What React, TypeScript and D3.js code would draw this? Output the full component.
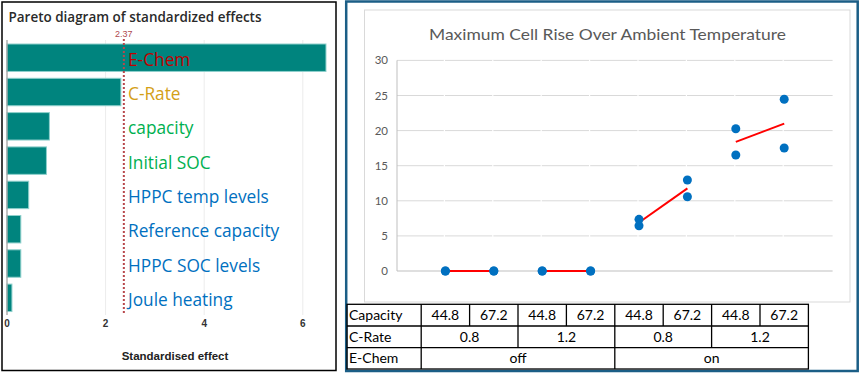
import React from "react";
import * as d3 from "d3";

// ---------- Left panel data (Pareto) ----------
const effectNames = [
  "E-Chem",
  "C-Rate",
  "capacity",
  "Initial SOC",
  "HPPC temp levels",
  "Reference capacity",
  "HPPC SOC levels",
  "Joule heating",
];
const effectValues = [6.47, 2.31, 0.86, 0.8, 0.44, 0.28, 0.28, 0.1];
const effectColors = ["#c00000", "#d4a017", "#00b050", "#00b050", "#0070c0", "#0070c0", "#0070c0", "#0070c0"];
const effectTicks = [0, 2, 4, 6];
const criticalValue = 2.37;

// ---------- Right panel data ----------
const runCategory = [1, 1, 2, 2, 3, 3, 4, 4, 5, 5, 6, 6, 7, 7, 8, 8];
const runRise = [0, 0, 0, 0, 0, 0, 0, 0, 7.36, 6.45, 12.96, 10.58, 20.27, 16.52, 24.46, 17.52];
const meanPairs = [
  [1, 2],
  [3, 4],
  [5, 6],
  [7, 8],
];
const riseTicks = [0, 5, 10, 15, 20, 25, 30];
const capacityRow = ["44.8", "67.2", "44.8", "67.2", "44.8", "67.2", "44.8", "67.2"];
const cRateRow = ["0.8", "1.2", "0.8", "1.2"];
const eChemRow = ["off", "on"];

export default function App() {
  // Left scales
  const xL = d3.scaleLinear().domain([0, 6.5]).range([7, 7 + 6.5 * 49.3]);
  const yL = d3
    .scaleBand<string>()
    .domain(effectNames)
    .range([40.57, 314.97])
    .paddingInner(0.2)
    .paddingOuter(0.1);

  // Right scales
  const xR = d3.scaleLinear().domain([0, 9]).range([397, 397 + 9 * 48.4]);
  const yR = d3.scaleLinear().domain([0, 30]).range([271, 60.4]);

  const means = meanPairs.map(([a, b]) => {
    const va = d3.mean(runRise.filter((_, i) => runCategory[i] === a)) as number;
    const vb = d3.mean(runRise.filter((_, i) => runCategory[i] === b)) as number;
    return { a, b, va, vb };
  });

  const rowTops = [304.3, 326, 347.7, 369];
  const tableLeft = 347;
  const labelRight = xR(0.5);
  const tableRight = xR(8.5);
  const tfont = "Lato, 'Liberation Sans', sans-serif";

  return (
    <svg
      width={860}
      height={376}
      style={{ position: "absolute", left: 0, top: 0, background: "#fff" }}
      fontFamily="'Open Sans', 'Noto Sans', sans-serif"
    >
      {/* ================= LEFT PANEL ================= */}
      <rect x={2} y={2} width={334} height={368.5} fill="#fff" stroke="#000" strokeWidth={1.5} />
      <text x={8.5} y={22} fontSize={14} fontWeight={600} fill="#2a2a2a" fontFamily="'Open Sans', sans-serif" textLength={253} lengthAdjust="spacingAndGlyphs">
        Pareto diagram of standardized effects
      </text>
      {/* gridlines */}
      {effectTicks.slice(1).map((t) => (
        <line key={t} x1={xL(t)} x2={xL(t)} y1={40} y2={315} stroke="#ececec" strokeWidth={1} />
      ))}
      {/* bars */}
      {effectNames.map((n, i) => (
        <rect
          key={n}
          x={xL(0)}
          y={yL(n)}
          width={xL(effectValues[i]) - xL(0)}
          height={yL.bandwidth()}
          fill="#00847e"
          stroke="#8fd0cc"
          strokeWidth={1}
        />
      ))}
      {/* axis line */}
      <line x1={7} x2={7} y1={40} y2={315} stroke="#9a9a9a" strokeWidth={1.2} />
      {/* critical value line */}
      <line
        x1={xL(criticalValue)}
        x2={xL(criticalValue)}
        y1={39}
        y2={315}
        stroke="#b8474b"
        strokeWidth={2}
        strokeDasharray="2,2"
      />
      <text x={xL(criticalValue)} y={37} fontSize={9} fill="#b04a4e" textAnchor="middle" fontFamily="'Liberation Sans', Arial, sans-serif">
        {criticalValue.toFixed(2)}
      </text>
      {/* effect labels */}
      {effectNames.map((n, i) => (
        <text
          key={n}
          x={128}
          y={(yL(n) as number) + yL.bandwidth() / 2 + 8}
          fontSize={17.3}
          fill={effectColors[i]}
        >
          {n}
        </text>
      ))}
      {/* ticks */}
      {effectTicks.map((t) => (
        <text key={t} x={xL(t)} y={327} fontSize={10} fontWeight={700} fill="#333" textAnchor="middle" fontFamily="'Liberation Sans', Arial, sans-serif">
          {t}
        </text>
      ))}
      <text x={175} y={360} fontSize={11.5} fontWeight={600} fill="#222" textAnchor="middle" fontFamily="'Liberation Sans', Arial, sans-serif">
        Standardised effect
      </text>

      {/* ================= RIGHT PANEL ================= */}
      <rect x={346.2} y={1.5} width={511.5} height={369.5} fill="#fff" stroke="#1b5e86" strokeWidth={2.5} />
      <rect x={364.5} y={10} width={485.5} height={292} fill="#fff" stroke="#d9d9d9" strokeWidth={1} />
      <text x={607.5} y={39.5} fontSize={16} fill="#595959" textAnchor="middle" fontFamily={tfont} textLength={357} lengthAdjust="spacingAndGlyphs">
        Maximum Cell Rise Over Ambient Temperature
      </text>
      {/* gridlines */}
      {riseTicks.slice(1).map((t) => (
        <line key={t} x1={xR(0)} x2={xR(9)} y1={yR(t)} y2={yR(t)} stroke="#d9d9d9" strokeWidth={1} />
      ))}
      {/* small gaps in gridlines at categories */}
      {d3.range(1, 9).map((c) => (
        <line key={c} x1={xR(c) - 1} x2={xR(c) - 1} y1={yR(30) - 1} y2={yR(0) - 2} stroke="#fff" strokeWidth={1.2} />
      ))}
      <line x1={xR(0)} x2={xR(0)} y1={yR(30)} y2={yR(0)} stroke="#bfbfbf" strokeWidth={1} />
      <line x1={xR(0)} x2={xR(9)} y1={yR(0)} y2={yR(0)} stroke="#bfbfbf" strokeWidth={1} />
      {riseTicks.map((t) => (
        <text key={t} x={388} y={yR(t)} dy="0.35em" fontSize={11.5} fill="#595959" textAnchor="end" fontFamily={tfont}>
          {t}
        </text>
      ))}
      {/* mean lines */}
      {means.map((m, i) => (
        <line key={i} x1={xR(m.a)} x2={xR(m.b)} y1={yR(m.va)} y2={yR(m.vb)} stroke="#ff0000" strokeWidth={2} />
      ))}
      {/* points */}
      {runRise.map((v, i) => (
        <circle key={i} cx={xR(runCategory[i])} cy={yR(v)} r={4.5} fill="#0070c0" />
      ))}

      {/* table */}
      <g fontFamily={tfont} fontSize={14} fill="#000">
        <rect x={tableLeft} y={rowTops[0]} width={tableRight - tableLeft} height={rowTops[3] - rowTops[0]} fill="none" stroke="#000" strokeWidth={1.3} />
        {rowTops.slice(1, 3).map((y, i) => (
          <line key={i} x1={tableLeft} x2={tableRight} y1={y} y2={y} stroke="#000" strokeWidth={1.3} />
        ))}
        <line x1={labelRight} x2={labelRight} y1={rowTops[0]} y2={rowTops[3]} stroke="#000" strokeWidth={1.3} />
        {["Capacity", "C-Rate", "E-Chem"].map((l, i) => (
          <text key={l} x={tableLeft + 2} y={(rowTops[i] + rowTops[i + 1]) / 2} dy="0.36em">
            {l}
          </text>
        ))}
        {/* row 1 */}
        {capacityRow.map((v, i) => (
          <g key={i}>
            {i > 0 && <line x1={xR(i + 0.5)} x2={xR(i + 0.5)} y1={rowTops[0]} y2={rowTops[1]} stroke="#000" strokeWidth={1.3} />}
            <text x={xR(i + 1)} y={(rowTops[0] + rowTops[1]) / 2} dy="0.36em" textAnchor="middle">
              {v}
            </text>
          </g>
        ))}
        {/* row 2 */}
        {cRateRow.map((v, i) => (
          <g key={i}>
            {i > 0 && <line x1={xR(2 * i + 0.5)} x2={xR(2 * i + 0.5)} y1={rowTops[1]} y2={rowTops[2]} stroke="#000" strokeWidth={1.3} />}
            <text x={xR(2 * i + 1.5)} y={(rowTops[1] + rowTops[2]) / 2} dy="0.36em" textAnchor="middle">
              {v}
            </text>
          </g>
        ))}
        {/* row 3 */}
        {eChemRow.map((v, i) => (
          <g key={i}>
            {i > 0 && <line x1={xR(4 * i + 0.5)} x2={xR(4 * i + 0.5)} y1={rowTops[2]} y2={rowTops[3]} stroke="#000" strokeWidth={1.3} />}
            <text x={xR(4 * i + 2.5)} y={(rowTops[2] + rowTops[3]) / 2} dy="0.36em" textAnchor="middle">
              {v}
            </text>
          </g>
        ))}
      </g>
    </svg>
  );
}
